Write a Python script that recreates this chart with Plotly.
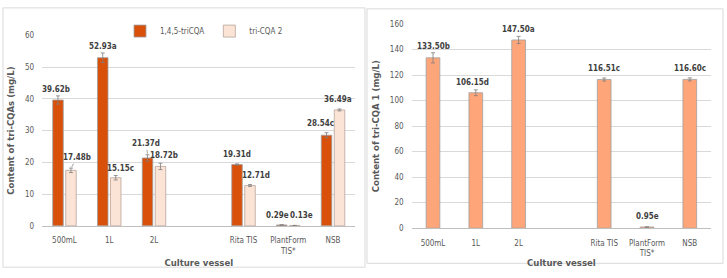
import plotly.graph_objects as go

# ---- data ----
categories = ["500mL", "1L", "2L", " ", "Rita TIS", "PlantForm TIS*", "NSB"]
tick_labels = ["500mL", "1L", "2L", "", "Rita TIS", "PlantForm<br>TIS*", "NSB"]
vessels = ["500mL", "1L", "2L", "Rita TIS", "PlantForm TIS*", "NSB"]

tri145_vals = [39.62, 52.93, 21.37, 19.31, 0.29, 28.54]
tri145_err = [1.3, 1.5, 1.0, 0.2, 0.05, 0.8]
tri145_lbl = ["39.62b", "52.93a", "21.37d", "19.31d", "0.29e", "28.54c"]

tri2_vals = [17.48, 15.15, 18.72, 12.71, 0.13, 36.49]
tri2_err = [0.7, 0.7, 1.0, 0.3, 0.03, 0.3]
tri2_lbl = ["17.48b", "15.15c", "18.72b", "12.71d", "0.13e", "36.49a"]

tri1_vals = [133.50, 106.15, 147.50, 116.51, 0.95, 116.60]
tri1_err = [4.0, 2.3, 2.8, 1.2, 0.1, 1.2]
tri1_lbl = ["133.50b", "106.15d", "147.50a", "116.51c", "0.95e", "116.60c"]

left_ticks = [0, 10, 20, 30, 40, 50, 60]
right_ticks = [0, 20, 40, 60, 80, 100, 120, 140, 160]

# ---- styles ----
FONT = "DejaVu Sans Condensed, Liberation Sans Narrow, Roboto, sans-serif"
C_DARK = "#D9500A"
C_LIGHT = "#FBE3D6"
C_RIGHT = "#FFA57A"
GRID = "#D9D9D9"
TXT = "#595959"
W, H = 727, 278
LBL_SIZE = 8
TICK_SIZE = 8
TITLE_SIZE = 9.5

# label offsets (px) relative to the bar's error-bar top: (dx, dy_up, leader)
off145 = [(-2, 6, False), (0, 6, False), (-1, 11, True), (0, 9, False), (-4, 9, False), (-6, 9, False)]
off2 = [(6, 10.5, True), (4.5, 7, False), (3.5, 7.5, False), (5.5, 8.6, False), (6.5, 9.5, False), (-1.5, 9.5, False)]
off1 = [(0, 6, False), (-3, 7, False), (0, 6.5, False), (0, 9, False), (0, 10, False), (0, 9, False)]

fig = go.Figure()

err_style = dict(type="data", thickness=0.8, width=2, color="#7F7F7F")

fig.add_trace(go.Bar(
    x=vessels, y=tri145_vals, name="1,4,5-triCQA",
    marker=dict(color=C_DARK, line=dict(color="#9E9E9E", width=0.8)),
    error_y=dict(array=tri145_err, **err_style),
    xaxis="x", yaxis="y", offsetgroup="a",
))
fig.add_trace(go.Bar(
    x=vessels, y=tri2_vals, name="tri-CQA 2",
    marker=dict(color=C_LIGHT, line=dict(color="#B8A59B", width=0.8)),
    error_y=dict(array=tri2_err, **err_style),
    xaxis="x", yaxis="y", offsetgroup="b",
))
fig.add_trace(go.Bar(
    x=vessels, y=tri1_vals, name="tri-CQA 1", showlegend=False,
    marker=dict(color=C_RIGHT, line=dict(color="#A0A0A0", width=0.8)),
    error_y=dict(array=tri1_err, **err_style),
    xaxis="x2", yaxis="y2", width=0.32,
))

# data labels
lbl_font = dict(family=FONT, size=LBL_SIZE, color="#404040", weight="bold")
annots = []
bar_off = 6.5
for i, v in enumerate(vessels):
    for vals, errs, lbls, offs, sign in ((tri145_vals, tri145_err, tri145_lbl, off145, -1),
                                         (tri2_vals, tri2_err, tri2_lbl, off2, 1)):
        dx, dy, leader = offs[i]
        top = vals[i] + errs[i]
        xs = sign * bar_off
        if leader:
            annots.append(dict(x=v, y=top, xref="x", yref="y", xshift=xs,
                               text=lbls[i], showarrow=True, arrowhead=0, arrowwidth=0.7,
                               arrowcolor="#7F7F7F", ax=dx, ay=-dy, standoff=1,
                               font=lbl_font))
        else:
            annots.append(dict(x=v, y=top, xref="x", yref="y", xshift=xs + dx, yshift=dy,
                               text=lbls[i], showarrow=False, yanchor="middle",
                               font=lbl_font))
    dx, dy, _ = off1[i]
    annots.append(dict(x=v, y=tri1_vals[i] + tri1_err[i], xref="x2", yref="y2",
                       xshift=dx, yshift=dy, text=tri1_lbl[i], showarrow=False,
                       yanchor="middle", font=lbl_font))

tick_font = dict(family=FONT, size=TICK_SIZE, color=TXT)
title_font = dict(family=FONT, size=TITLE_SIZE, color=TXT, weight="bold")

fig.update_layout(
    width=W, height=H,
    margin=dict(l=0, r=0, t=0, b=0),
    paper_bgcolor="white", plot_bgcolor="white",
    font=dict(family=FONT, size=TICK_SIZE, color=TXT),
    barmode="group", bargap=0.42, bargroupgap=0.19,
    showlegend=True,
    legend=dict(orientation="h", x=120 / W, xanchor="left", y=1 - 13 / H, yanchor="top",
                font=dict(family=FONT, size=8, color=TXT), itemwidth=30,
                bgcolor="rgba(0,0,0,0)", traceorder="normal"),
    xaxis=dict(domain=[42.1 / W, 355.4 / W], type="category",
               categoryorder="array", categoryarray=categories,
               tickmode="array", tickvals=categories, ticktext=tick_labels,
               range=[-0.5, 6.5], showgrid=False, showline=True, linecolor="#BFBFBF",
               linewidth=1, ticks="", ticklabelstandoff=7, tickfont=tick_font,
               title=dict(text="Culture vessel", standoff=4, font=title_font)),
    yaxis=dict(domain=[1 - 229.3 / H, 1 - 32.3 / H], range=[0, 60], tickvals=left_ticks,
               showgrid=True, gridcolor=GRID, gridwidth=1, zeroline=False,
               showline=False, ticks="", ticklabelstandoff=7, tickfont=tick_font,
               title=dict(text="Content of tri-CQAs (mg/L)", standoff=8, font=title_font)),
    xaxis2=dict(domain=[411.6 / W, 711.2 / W], type="category",
                categoryorder="array", categoryarray=categories,
                tickmode="array", tickvals=categories, ticktext=tick_labels,
                range=[-0.5, 6.5], showgrid=False, showline=True, linecolor="#BFBFBF",
                linewidth=1, ticks="", ticklabelstandoff=7, anchor="y2", tickfont=tick_font,
                title=dict(text="Culture vessel", standoff=2, font=title_font)),
    yaxis2=dict(domain=[1 - 231.7 / H, 1 - 20.7 / H], range=[0, 160], tickvals=right_ticks,
                showgrid=True, gridcolor=GRID, gridwidth=1, zeroline=False,
                showline=False, ticks="", ticklabelstandoff=7, anchor="x2", tickfont=tick_font,
                title=dict(text="Content of tri-CQA 1 (mg/L)", standoff=8, font=title_font)),
    annotations=annots,
    shapes=[
        dict(type="rect", xref="paper", yref="paper", x0=3 / W, x1=365 / W,
             y0=1 - 272 / H, y1=1 - 4 / H, line=dict(color="#D9D9D9", width=1), layer="below"),
        dict(type="rect", xref="paper", yref="paper", x0=367 / W, x1=723 / W,
             y0=1 - 268 / H, y1=1 - 5 / H, line=dict(color="#D9D9D9", width=1), layer="below"),
    ],
)

fig.write_html("out.html")
